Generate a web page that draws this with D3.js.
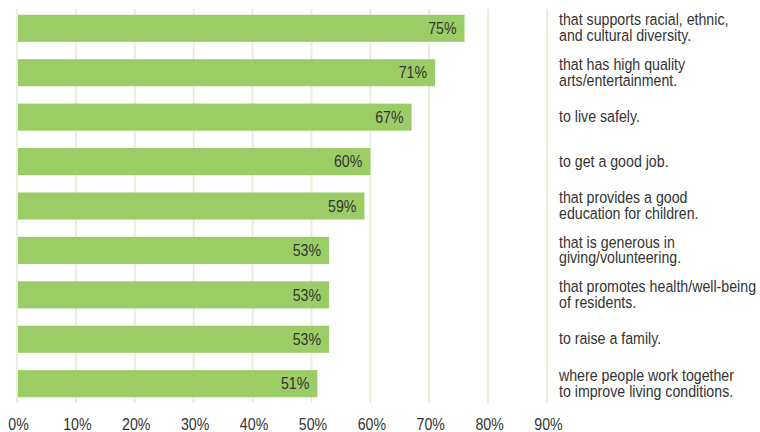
<!DOCTYPE html>
<html>
<head>
<meta charset="utf-8">
<script src="https://cdn.jsdelivr.net/npm/d3@7"></script>
<style>
  body { margin: 0; background: #fff; }
  text { font-family: "Liberation Sans Narrow", "Liberation Sans", Arial, sans-serif; fill: #333; }
</style>
</head>
<body>
<div id="chart"></div>
<script>
// data
var categories = [
  ["that supports racial, ethnic,", "and cultural diversity."],
  ["that has high quality", "arts/entertainment."],
  ["to live safely."],
  ["to get a good job."],
  ["that provides a good", "education for children."],
  ["that is generous in", "giving/volunteering."],
  ["that promotes health/well-being", "of residents."],
  ["to raise a family."],
  ["where people work together", "to improve living conditions."]
];
var values = [76, 71, 67, 60, 59, 53, 53, 53, 51];
var valueLabels = ["75%", "71%", "67%", "60%", "59%", "53%", "53%", "53%", "51%"];
var ticks = [0, 10, 20, 30, 40, 50, 60, 70, 80, 90];

var width = 760, height = 432;
var squeeze = 0.86;   // narrow look of the original font
var fontSize = "16.5px";
var lineH = 15.7;

var svg = d3.select("#chart")
    .append("svg")
    .attr("width", width)
    .attr("height", height);

// x scale
var x = d3.scaleLinear()
    .domain([0, 90])
    .range([17, 547]);

// y scale (one band per statement)
var y = d3.scaleBand()
    .domain(d3.range(values.length))
    .range([9, 403])
    .paddingInner(0.39)
    .paddingOuter(0.13);

function place(tx, ty) {
    return "translate(" + tx + "," + ty + ") scale(" + squeeze + ",1)";
}

// grid lines
svg.append("g")
    .selectAll("line")
    .data(ticks)
    .enter()
    .append("line")
    .attr("x1", function (d) { return x(d); })
    .attr("x2", function (d) { return x(d); })
    .attr("y1", 9)
    .attr("y2", 403)
    .attr("stroke", "#e6efd9")
    .attr("stroke-width", 2);

// bars
svg.append("g")
    .selectAll("rect")
    .data(values)
    .enter()
    .append("rect")
    .attr("x", x(0) + 1)
    .attr("y", function (d, i) { return y(i); })
    .attr("width", function (d) { return x(d) - x(0) - 1; })
    .attr("height", y.bandwidth())
    .attr("fill", "#9bcd66");

// value labels inside bars
svg.append("g")
    .selectAll("text")
    .data(values)
    .enter()
    .append("text")
    .attr("transform", function (d, i) {
        return place(x(d) - 8, y(i) + y.bandwidth() / 2 + 5.7);
    })
    .attr("text-anchor", "end")
    .style("font-size", fontSize)
    .text(function (d, i) { return valueLabels[i]; });

// statements on the right
var lab = svg.append("g")
    .selectAll("text")
    .data(categories)
    .enter()
    .append("text")
    .attr("transform", function (d, i) {
        return place(559, y(i) + y.bandwidth() / 2 + 5 - (d.length - 1) * lineH / 2);
    })
    .style("font-size", fontSize);
lab.selectAll("tspan")
    .data(function (d) { return d; })
    .enter()
    .append("tspan")
    .attr("x", 0)
    .attr("y", function (d, j) { return j * lineH; })
    .text(function (d) { return d; });

// x axis labels
svg.append("g")
    .selectAll("text")
    .data(ticks)
    .enter()
    .append("text")
    .attr("transform", function (d) { return place(x(d) + 1.5, 430); })
    .attr("text-anchor", "middle")
    .style("font-size", fontSize)
    .text(function (d) { return d + "%"; });
</script>
</body>
</html>
